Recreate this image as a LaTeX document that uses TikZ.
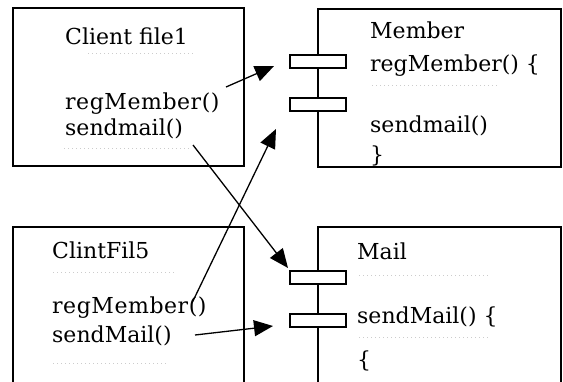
\documentclass[tikz,border=0pt]{standalone}
\usepackage{fontspec}
\setmainfont{DejaVu Serif}
\usetikzlibrary{arrows.meta}
\begin{document}
\begin{tikzpicture}[x=1bp,y=-1bp,
  box/.style={draw, line width=1.8bp, anchor=north west, inner sep=0pt, outer sep=0pt},
  port/.style={draw, fill=white, line width=1.6bp, anchor=north west, inner sep=0pt,
    minimum width=56bp, minimum height=13bp},
  txt/.style={anchor=base west, inner sep=0pt, font=\fontsize{22bp}{26bp}\selectfont},
  wide/.style={font=\fontsize{22bp}{26bp}\selectfont\addfontfeature{LetterSpace=2.5}},
  call/.style={line width=1.3bp, -{Triangle[length=19bp,width=16bp]}},
  smudge/.style={gray!40, line width=1bp, dash pattern=on 1bp off 3bp}]
\useasboundingbox (0,0) rectangle (563,381);
\clip (0,0) rectangle (563,381);

% component boxes
\node[box, minimum width=231bp, minimum height=158bp] (client1) at (13,8) {};
\node[box, minimum width=243bp, minimum height=158bp] (member) at (318,9) {};
\node[box, minimum width=231bp, minimum height=175bp] (client5) at (13,227) {};
\node[box, minimum width=243bp, minimum height=175bp] (mail) at (318,227) {};

% interface ports on the server components
\node[port] (mport1) at (289,54) {};
\node[port] (mport2) at (289,97) {};
\node[port] (lport1) at (289,270) {};
\node[port] (lport2) at (289,313) {};

% Client file1
\node[txt] (c1title) at (65,44) {Client file1};
\node[txt, wide] (c1reg) at (65,109) {regMember()};
\node[txt] (c1send) at (65,135) {sendmail()};
\draw[smudge] (88,53) -- (196,53);
\draw[smudge] (64,148) -- (192,148);

% Member
\node[txt] (mtitle) at (370,38) {Member};
\node[txt] (mreg) at (370,71) {regMember() \{};
\node[txt] (msend) at (370,132) {sendmail()};
\node[txt] (mclose) at (370,162) {\}};
\draw[smudge] (372,85) -- (500,85);

% ClintFil5
\node[txt] (c5title) at (52,258) {ClintFil5};
\node[txt, wide] (c5reg) at (52,313) {regMember()};
\node[txt] (c5send) at (52,342) {sendMail()};
\draw[smudge] (53,272) -- (177,272);
\draw[smudge] (53,363) -- (167,363);

% Mail
\node[txt] (ltitle) at (357,259) {Mail};
\node[txt] (lsend) at (357,323) {sendMail() \{};
\node[txt] (lopen) at (357,367) {\{};
\draw[smudge] (359,275) -- (490,275);
\draw[smudge] (359,337) -- (490,337);

% call arrows
\coordinate (a1s) at (226,87);
\coordinate (a1e) at (274,66);
\coordinate (a2s) at (192,303);
\coordinate (a2e) at (276,129);
\coordinate (a3s) at (193,145);
\coordinate (a3e) at (288,268);
\coordinate (a4s) at (195,335);
\coordinate (a4e) at (273,326);
\draw[call] (a1s) -- (a1e);
\draw[call] (a2s) -- (a2e);
\draw[call] (a3s) -- (a3e);
\draw[call] (a4s) -- (a4e);
\end{tikzpicture}
\end{document}
